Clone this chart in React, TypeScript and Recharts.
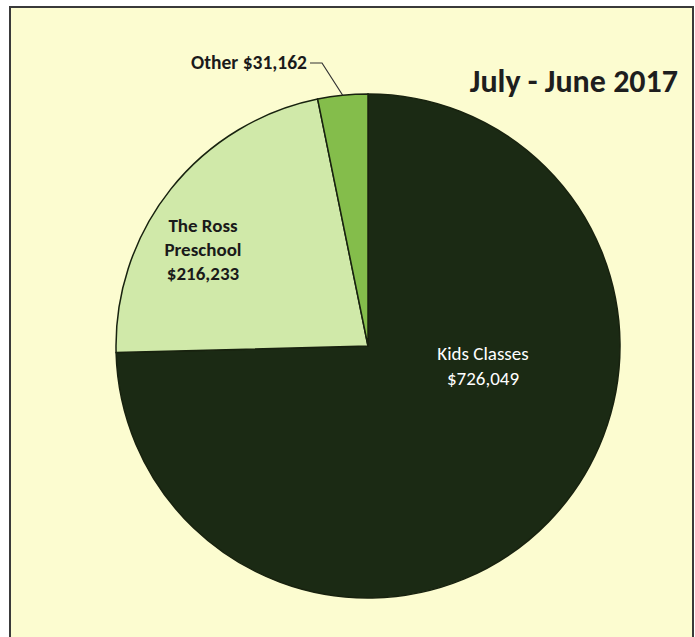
import { PieChart, Pie, Cell } from "recharts"

const categories = ["Kids Classes", "The Ross Preschool", "Other"]
const amounts = [726049, 216233, 31162]
const labelLines = [["Kids Classes", "$726,049"], ["The Ross", "Preschool", "$216,233"], ["Other $31,162"]]
const title = "July - June 2017"

const colors = ["#1b2a14", "#d0e9a9", "#84bd4b"]
const font = "Carlito, Lato, 'Open Sans', sans-serif"

const data = categories.map((name, i) => ({ name, value: amounts[i] }))

const RAD = Math.PI / 180

function renderLabel(props: any) {
  const { cx, cy, midAngle, outerRadius, index } = props
  const lines = labelLines[index]
  if (index === 0) {
    return (
      <text x={cx + 115} y={cy + 14} fill="#ffffff" fontFamily={font} fontSize={19} textAnchor="middle">
        {lines.map((l, i) => (
          <tspan key={i} x={cx + 115} dy={i === 0 ? 0 : 25}>{l}</tspan>
        ))}
      </text>
    )
  }
  if (index === 1) {
    return (
      <text x={cx - 165} y={cy - 114} fill="#1a1a1a" fontFamily={font} fontWeight="bold" fontSize={19} textAnchor="middle">
        {lines.map((l, i) => (
          <tspan key={i} x={cx - 165} dy={i === 0 ? 0 : 24}>{l}</tspan>
        ))}
      </text>
    )
  }
  // Other: leader line out of the slice
  const sx = cx + outerRadius * Math.cos(-midAngle * RAD)
  const sy = cy + outerRadius * Math.sin(-midAngle * RAD)
  const ex = cx - 46
  const ey = cy - 283
  return (
    <g>
      <polyline points={`${sx},${sy} ${ex},${ey} ${ex - 12},${ey}`} fill="none" stroke="#333" strokeWidth={1.2} />
      <text x={ex - 15} y={ey + 6} fill="#1a1a1a" fontFamily={font} fontWeight="bold" fontSize={19.5} textAnchor="end">
        {lines[0]}
      </text>
    </g>
  )
}

export default function App() {
  return (
    <div style={{ position: "fixed", left: 0, top: 0, width: 695, height: 637, background: "#ffffff", overflow: "hidden" }}>
      <div
        style={{
          position: "absolute",
          left: 9,
          top: 6,
          width: 681,
          height: 640,
          border: "2px solid #3a3a3a",
          background: "#fcfcd0",
        }}
      />
      <div style={{ position: "absolute", left: 0, top: 0 }}>
        <PieChart width={695} height={637} margin={{ top: 0, right: 0, bottom: 0, left: 0 }}>
          <Pie
            data={data}
            dataKey="value"
            nameKey="name"
            cx={368}
            cy={346}
            outerRadius={252}
            startAngle={90}
            endAngle={-270}
            stroke="#18220f"
            strokeWidth={1.5}
            label={renderLabel}
            labelLine={false}
            isAnimationActive={false}
          >
            {data.map((d, i) => (
              <Cell key={d.name} fill={colors[i]} />
            ))}
          </Pie>
          <text x={678} y={92} textAnchor="end" fontFamily={font} fontWeight="bold" fontSize={32} fill="#1e1e1e">
            {title}
          </text>
        </PieChart>
      </div>
    </div>
  )
}
